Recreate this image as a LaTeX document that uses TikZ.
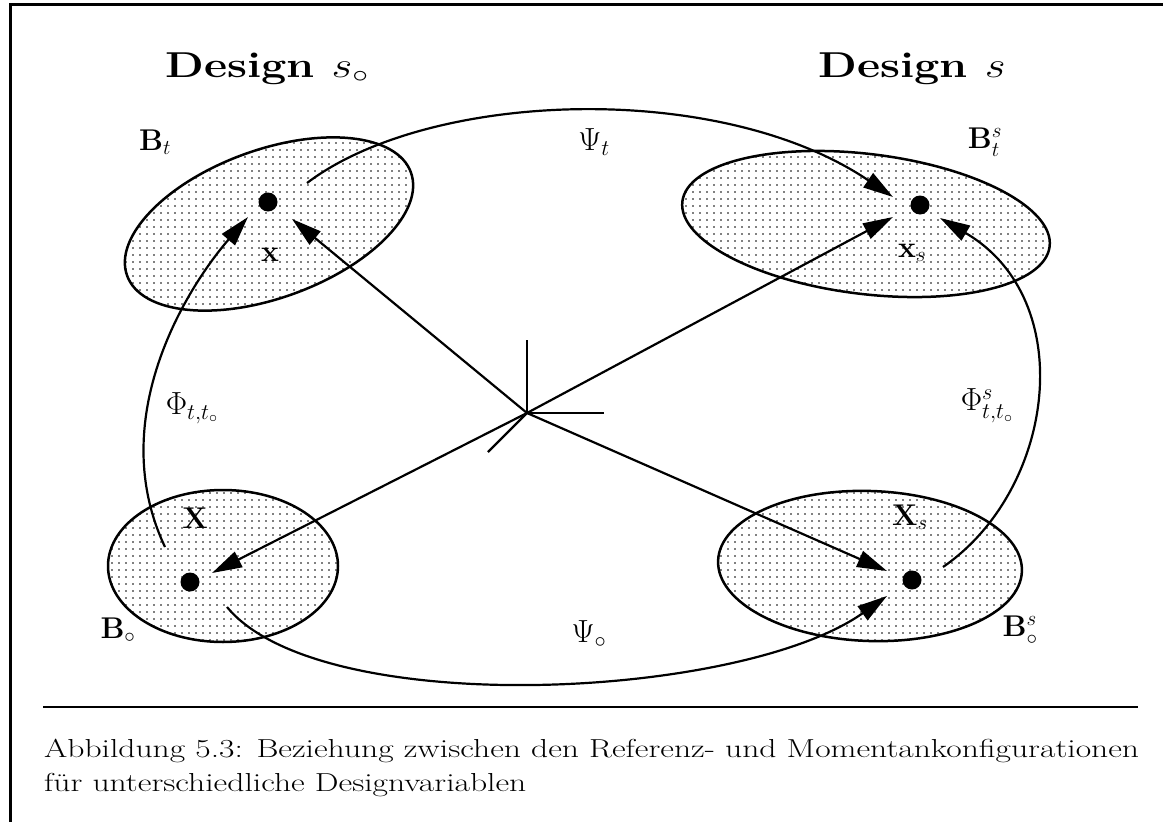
\RequirePackage{fix-cm}
\documentclass[tikz,border=0pt]{standalone}
\usepackage{graphicx}
\usetikzlibrary{arrows.meta,shapes.geometric,patterns.meta}
\newsavebox\capboxA
\newsavebox\capboxB
\begin{document}
\sbox\capboxA{\fontsize{26}{30}\selectfont Abbildung 5.3: Beziehung zwischen den Referenz- und Momentankonfigurationen}%
\sbox\capboxB{\fontsize{26}{30}\selectfont für unterschiedliche Designvariablen}%
\begin{tikzpicture}[x=1pt,y=-1pt,
  line width=2.2pt,
  blob/.style={ellipse, draw, line width=2.5pt, inner sep=0pt,
    pattern={Dots[distance=7pt,radius=0.8pt]}, pattern color=black},
  dotnode/.style={circle, fill=black, inner sep=0pt, minimum size=19pt},
  arr/.style={-{Triangle[length=30pt,width=17pt]}, line width=2.2pt},
  lab/.style={inner sep=0pt, font=\fontsize{30}{34}\selectfont},
  glab/.style={inner sep=0pt, font=\fontsize{32}{36}\selectfont},
  ttl/.style={inner sep=0pt, anchor=base, font=\fontsize{36}{40}\selectfont\bfseries},
  capnode/.style={inner sep=0pt, anchor=base west},
]
\useasboundingbox (0,0) rectangle (1163,822);
\fill[white] (0,0) rectangle (1163,822);
% frame
\draw[line width=2.5pt] (10.7,822) -- (10.7,4.3) -- (1163,4.3);

% ellipses
\node[blob, minimum width=302pt, minimum height=148pt, rotate=20] (Bt) at (269,224) {};
\node[blob, minimum width=370pt, minimum height=140pt, rotate=-7] (Bts) at (866,224) {};
\node[blob, minimum width=230pt, minimum height=152pt] (B0) at (223,566) {};
\node[blob, minimum width=304pt, minimum height=150pt, rotate=-2] (B0s) at (870,566) {};

% points
\node[dotnode] (x) at (268,202) {};
\node[dotnode] (xs) at (920,205) {};
\node[dotnode] (X) at (190,582) {};
\node[dotnode] (Xs) at (912,580) {};

% coordinates
\coordinate (O) at (527,413);
\coordinate (tTL) at (292,219);
\coordinate (tTR) at (893,217);
\coordinate (tBL) at (212,573);
\coordinate (tBR) at (887,571);
\coordinate (psiTs) at (307,183);
\coordinate (psiTe) at (893,197);
\coordinate (phiS) at (165,547);
\coordinate (phiE) at (248,217);
\coordinate (phisS) at (943,567);
\coordinate (phisE) at (940,218);
\coordinate (psiOs) at (227,607);
\coordinate (psiOe) at (887,596);
\coordinate (ax1) at (527,340);
\coordinate (ax2) at (604,413);
\coordinate (ax3) at (488,452);

% axes
\draw (O) -- (ax1);
\draw (O) -- (ax2);
\draw (O) -- (ax3);

% straight arrows
\draw[arr] (O) -- (tTL);
\draw[arr] (O) -- (tTR);
\draw[arr] (O) -- (tBL);
\draw[arr] (O) -- (tBR);

% curved arrows
\draw[arr] (psiTs) .. controls (430,90) and (720,80) .. (psiTe);
\draw[arr] (phiS) .. controls (105,420) and (185,290) .. (phiE);
\draw[arr] (phisS) .. controls (1055,490) and (1080,300) .. (phisE);
\draw[arr] (psiOs) .. controls (320,720) and (740,700) .. (psiOe);

% labels
\node[lab] (lx) at (270,255) {$\mathbf{x}$};
\node[lab] (lxs) at (912,253) {$\mathbf{x}_s$};
\node[lab] (lX) at (195,518) {$\mathbf{X}$};
\node[lab] (lXs) at (910,517) {$\mathbf{X}_s$};
\node[lab] (lBt) at (155,142) {$\mathbf{B}_t$};
\node[lab] (lBts) at (985,142) {$\mathbf{B}^s_t$};
\node[lab] (lB0) at (118,630) {$\mathbf{B}_\circ$};
\node[lab] (lB0s) at (1020,630) {$\mathbf{B}^s_\circ$};
\node[glab] (lphi) at (192,408) {$\Phi_{t,t_\circ}$};
\node[glab] (lphis) at (987,406) {$\Phi^s_{t,t_\circ}$};
\node[glab] (lpsit) at (594,142) {$\Psi_t$};
\node[glab] (lpsi0) at (589,634) {$\Psi_\circ$};

% titles
\node[ttl] (T0) at (267,77) {\scalebox{1.25}[1]{Design $s_\circ$}};
\node[ttl] (T1) at (912,77) {\scalebox{1.25}[1]{Design $s$}};

% caption
\draw[line width=2pt] (43,707) -- (1138,707);
\pgfmathsetmacro\capfac{1095/\the\wd\capboxA}
\node[capnode] (cap1) at (43,757) {\scalebox{\capfac}[1]{\usebox\capboxA}};
\node[capnode] (cap2) at (43,791) {\scalebox{\capfac}[1]{\usebox\capboxB}};
\end{tikzpicture}
\end{document}
